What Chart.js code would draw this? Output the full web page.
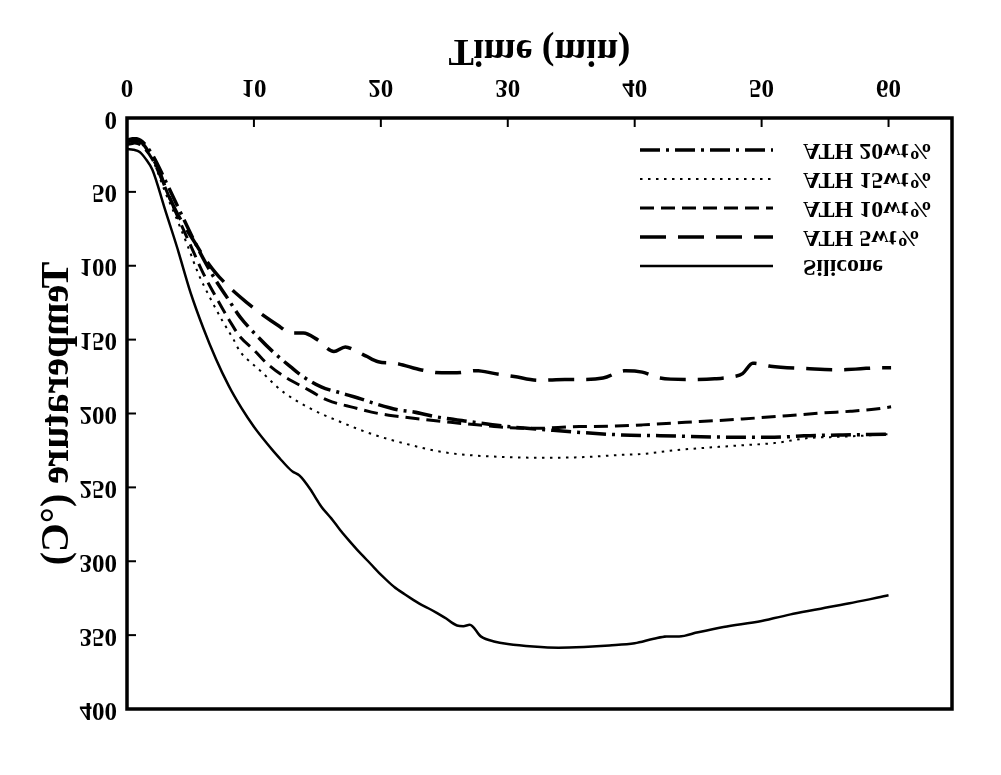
<!DOCTYPE html>
<html>
<head>
<meta charset="utf-8">
<script src="https://cdn.jsdelivr.net/npm/chart.js@4.4.1/dist/chart.umd.min.js"></script>
<style>
html, body { margin: 0; padding: 0; background: #fff; overflow: hidden; }
#wrap { width: 1001px; height: 775px; transform: scaleY(-1); }
canvas { display: block; }
</style>
</head>
<body>
<div id="wrap"><canvas id="c" width="1001" height="775"></canvas></div>
<script>
// ---- data ----
const xTitle = 'Time (min)';
const yTitle = 'Temperature (°C)';
const xTickValues = [0, 10, 20, 30, 40, 50, 60];
const yTickValues = [0, 50, 100, 150, 200, 250, 300, 350, 400];
const seriesNames = ['Silicone', 'ATH 5wt%', 'ATH 10wt%', 'ATH 15wt%', 'ATH 20wt%'];

const siliconeTime = [0,0.5,1,1.5,2,3,4,5,6,7,8,9,10,11,12,13,13.6,14.5,15.3,16,17,18,19,20,21,22,23,24,25,26,26.5,27,27.9,29,30,32,34,36,38,40,41.5,42.5,43.5,45,47,50,52.5,55,57.2,60];
const siliconeTemp = [21,21.5,23,28,35,62,89,118,142,163,181,196,209,220,230,239,242,252,263,270,281,291,300,309,317,323,328.5,333,338,343.5,344,343,351,354.5,356,357.7,358.5,358,357,355.5,352.5,351,351,348,344.5,340.5,335.5,331.5,328,323];

const ath5Time = [0,0.6,1.2,1.6,2.5,3,3.8,4.6,5.4,6.2,7,8,8.9,10.5,12,12.9,13.9,15,16.3,17.2,17.9,18.8,19.8,21.1,23.2,24.8,26,27.5,29,30.5,32.5,34.5,36,37.5,39.3,40.6,42,44,46.3,47.8,48.5,49.3,50.7,53.5,56,59.6,60.2];
const ath5Temp = [16,15,17,21.6,35,46.5,62,74,85,96,105,114,121,132,141,145.5,145.5,150,158,155,157,161,165,166,170.5,172.5,172.5,171,173,175,177.5,177,177,176,171,172,176,177,176.5,175,173,166,168,169.5,170.5,169,169];

const ath10Time = [0,0.6,1.2,2,3,4,5,6,7,8,8.9,10,11,12.4,14.3,15.8,17.9,19.8,21.4,23.4,25.5,28,30,32.5,35,38.5,40.6,44,48.5,52,54.9,57,59,60.2];
const ath10Temp = [18,17,19,28,47,67,86,105,121,136,148,157,166,175,184,191,196,200,202,204,206,208,209.5,210,209,208.5,207.7,206,203.7,201.5,199.6,198.5,197,195.5];

const ath15Time = [0,0.6,1.2,2,3,4,4.8,5.6,6.5,7.5,8.4,8.9,9.7,10.5,11.7,12.4,14.3,16.9,19.5,22.2,24.8,27.5,30,33,36,39,40.6,43,45.9,48.5,51,53.8,55.4,58,60];
const ath15Temp = [17,16,18,28,50,70,87,105,121,137,150,158,165,171,181,186,196,206,214.5,221,226,228.5,229.5,230,229.5,228,227.4,225,223,221.5,220,216.5,216,215,214];

const ath20Time = [0,0.6,1.2,2,3,4,5,6,7,8,8.9,10.3,11.6,12.9,13.7,15.3,16.8,18.2,19.8,21.4,22.6,24.2,27,30.2,33,36,39,42,47.2,51,53.8,56.4,60.2];
const ath20Temp = [15,14,16,25,42,60,78,95,110,123,134.6,148,159,168.5,174,182,186,189.5,194,197.6,199,202,205.5,209,211,213,214.5,215,216,216,215,214.5,214];

// ---- styles ----
const FONT = "'Liberation Serif', 'Times New Roman', serif";
const lineStyles = [
  { borderWidth: 2.5, borderDash: [] },
  { borderWidth: 3.5, borderDash: [26, 12] },
  { borderWidth: 3, borderDash: [14, 7] },
  { borderWidth: 2, borderDash: [2.5, 5.5] },
  { borderWidth: 3.5, borderDash: [20, 6, 3, 6] }
];
const seriesTimes = [siliconeTime, ath5Time, ath10Time, ath15Time, ath20Time];
const seriesTemps = [siliconeTemp, ath5Temp, ath10Temp, ath15Temp, ath20Temp];

const datasets = seriesNames.map((name, i) => ({
  label: name,
  data: seriesTimes[i].map((t, k) => ({ x: t, y: seriesTemps[i][k] })),
  borderColor: '#000',
  backgroundColor: '#000',
  borderWidth: lineStyles[i].borderWidth,
  borderDash: lineStyles[i].borderDash,
  pointRadius: 0,
  fill: false,
  cubicInterpolationMode: 'monotone'
}));

const framePlugin = {
  id: 'frame',
  afterDatasetsDraw(chart) {
    const { ctx, chartArea: a, scales } = chart;
    const xs = scales.x, ys = scales.y;
    ctx.save();
    ctx.setLineDash([]);
    ctx.strokeStyle = '#000';
    ctx.lineWidth = 3.5;
    ctx.strokeRect(a.left, a.top, a.right - a.left, a.bottom - a.top);
    ctx.lineWidth = 2;
    xs.ticks.forEach(t => {
      const px = xs.getPixelForValue(t.value);
      if (px <= a.left + 2 || px >= a.right - 2) return;
      ctx.beginPath(); ctx.moveTo(px, a.bottom); ctx.lineTo(px, a.bottom - 9); ctx.stroke();
    });
    ys.ticks.forEach(t => {
      const py = ys.getPixelForValue(t.value);
      if (py >= a.bottom - 2 || py <= a.top + 2) return;
      ctx.beginPath(); ctx.moveTo(a.left, py); ctx.lineTo(a.left + 9, py); ctx.stroke();
    });
    // legend inside the plot
    const x0 = 640, x1 = 773, tx = 803, y0 = 509, dy = 29;
    ctx.font = 'bold 24px ' + FONT;
    ctx.fillStyle = '#000';
    ctx.textBaseline = 'middle';
    ctx.textAlign = 'left';
    chart.data.datasets.forEach((ds, i) => {
      const y = y0 + i * dy;
      ctx.lineWidth = ds.borderWidth;
      ctx.setLineDash(ds.borderDash || []);
      ctx.beginPath(); ctx.moveTo(x0, y); ctx.lineTo(x1, y); ctx.stroke();
      ctx.setLineDash([]);
      ctx.fillText(ds.label, tx, y);
    });
    ctx.restore();
  }
};

new Chart(document.getElementById('c'), {
  type: 'line',
  data: { datasets },
  options: {
    responsive: false,
    animation: false,
    devicePixelRatio: 1,
    layout: { padding: { top: 66, right: 49, bottom: 0, left: 0 } },
    plugins: { legend: { display: false }, tooltip: { enabled: false } },
    scales: {
      x: {
        type: 'linear', position: 'bottom', min: 0, max: 65,
        afterBuildTicks: s => { s.ticks = xTickValues.map(v => ({ value: v })); },
        ticks: { font: { family: FONT, size: 25, weight: 'bold' }, color: '#000', padding: 9, maxRotation: 0, includeBounds: false },
        grid: { display: false },
        border: { display: false },
        title: { display: true, text: xTitle, color: '#000', font: { family: FONT, size: 38, weight: 'bold' }, padding: { top: 0, bottom: 27 } },
        afterFit: s => { s.height = 118; }
      },
      y: {
        type: 'linear', min: 0, max: 400,
        afterBuildTicks: s => { s.ticks = yTickValues.map(v => ({ value: v })); },
        ticks: { font: { family: FONT, size: 25, weight: 'bold' }, color: '#000', padding: 2 },
        grid: { display: false },
        border: { display: false },
        title: { display: true, text: yTitle, color: '#000', font: { family: FONT, size: 40, weight: 'bold' }, padding: { top: 34, bottom: 0 } },
        afterFit: s => { s.width = 127; }
      }
    }
  },
  plugins: [framePlugin]
});
</script>
</body>
</html>
